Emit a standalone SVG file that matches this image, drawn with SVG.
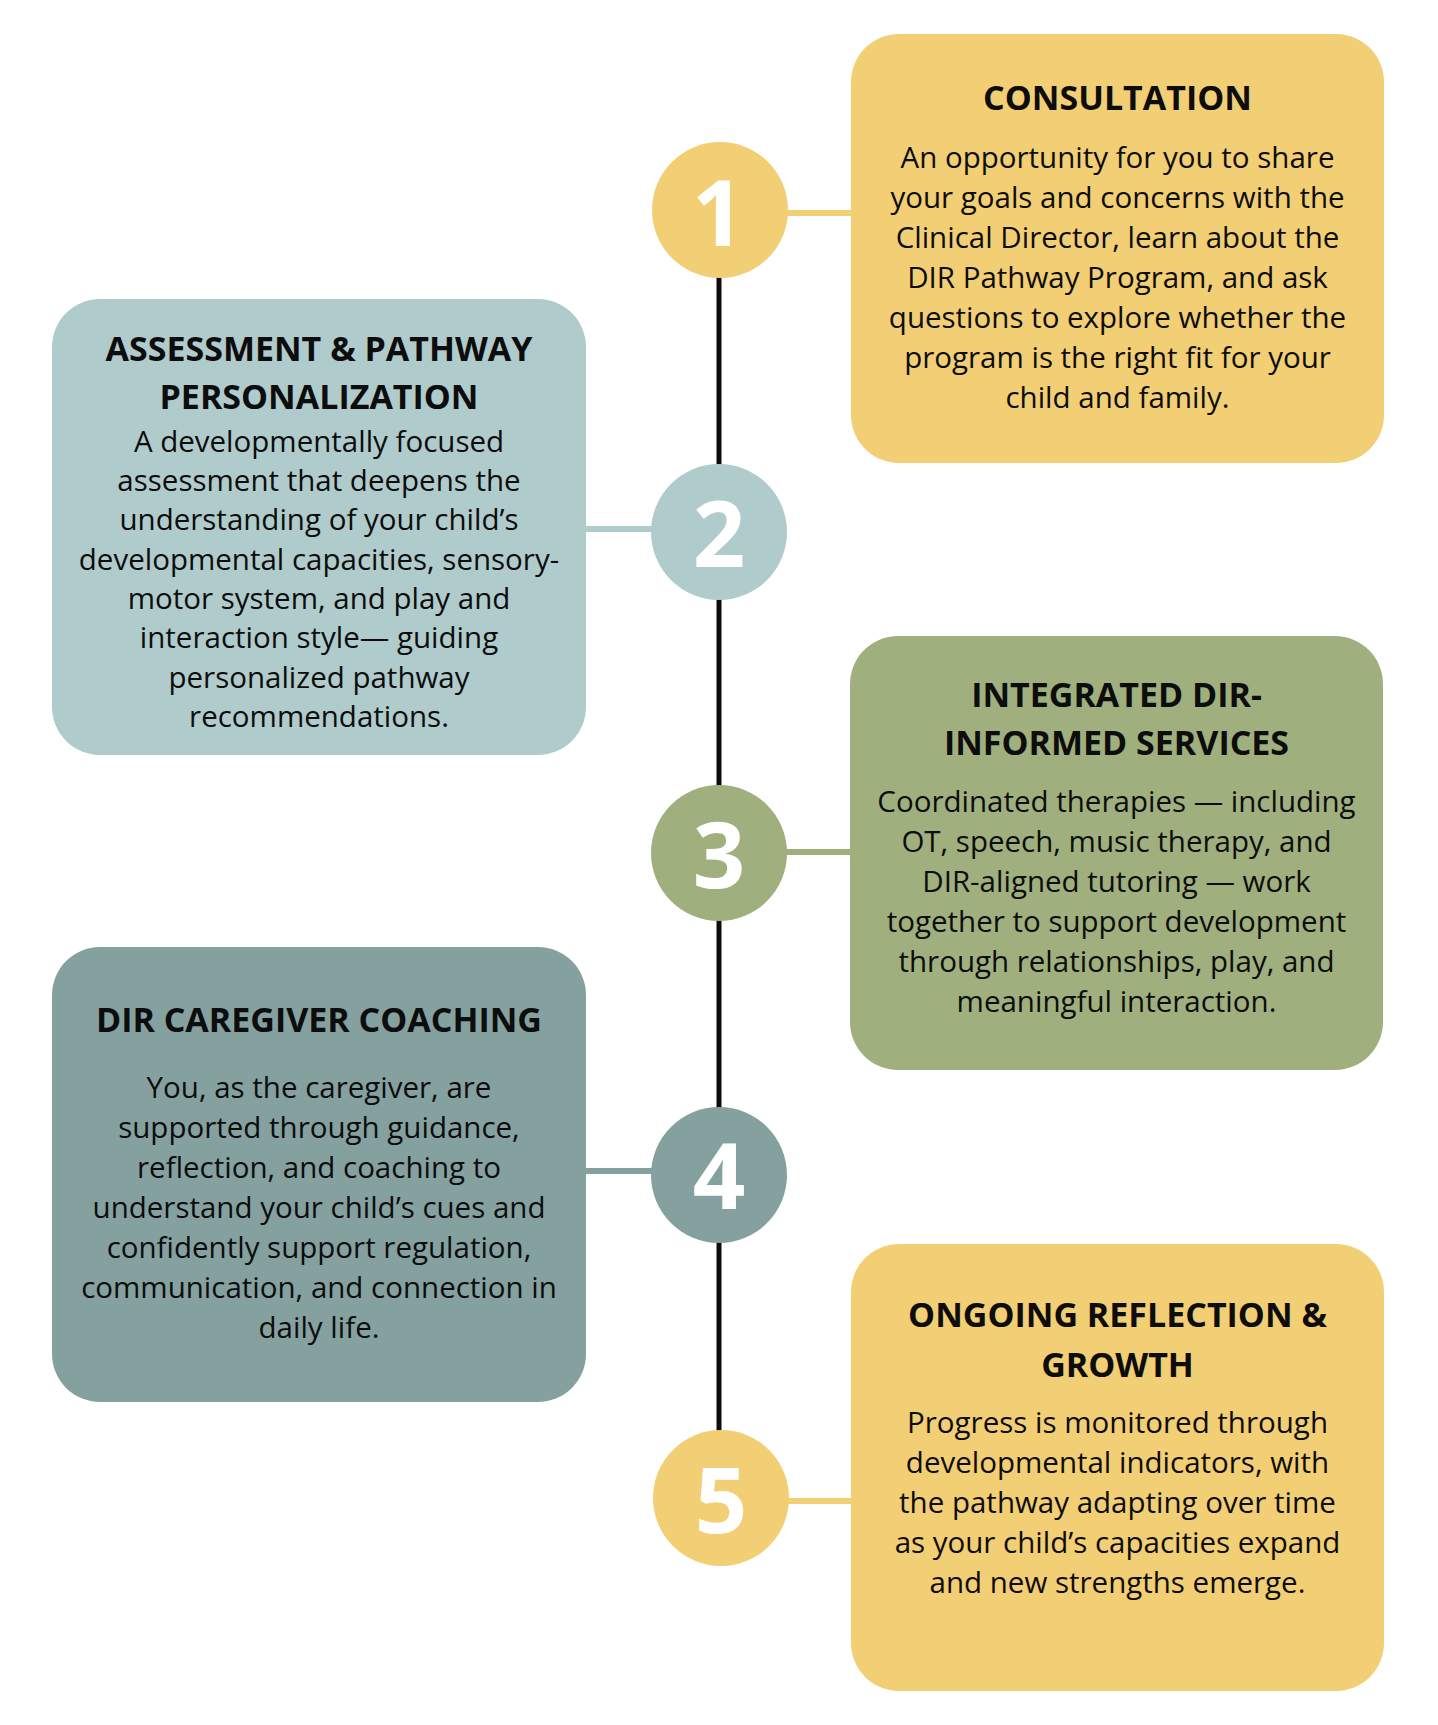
<svg xmlns="http://www.w3.org/2000/svg" width="1438" height="1725" viewBox="0 0 1438 1725">
<style>
.title{font-family:"Open Sans","Liberation Sans",sans-serif;font-weight:700;font-size:34px;fill:#0d0d0d;text-anchor:middle}
.body{font-family:"Open Sans","Liberation Sans",sans-serif;font-weight:400;font-size:29.5px;fill:#0d0d0d;text-anchor:middle}
.num{font-family:"Open Sans","Liberation Sans",sans-serif;font-weight:700;font-size:92px;fill:#ffffff;text-anchor:middle}
.yel{fill:#f2ce74}.blu{fill:#b0cbcb}.grn{fill:#a0af7e}.tea{fill:#84a1a0}
</style>
<rect width="1438" height="1725" fill="#ffffff"/>
<g id="connectors">
<line x1="719" y1="210" x2="719" y2="1498" stroke="#0d0d0d" stroke-width="5"/>
<line x1="780" y1="213" x2="855" y2="213" stroke="#f2ce74" stroke-width="6"/>
<line x1="582" y1="529" x2="660" y2="529" stroke="#b0cbcb" stroke-width="6"/>
<line x1="780" y1="852" x2="855" y2="852" stroke="#a0af7e" stroke-width="6"/>
<line x1="582" y1="1171" x2="660" y2="1171" stroke="#84a1a0" stroke-width="6"/>
<line x1="780" y1="1501" x2="855" y2="1501" stroke="#f2ce74" stroke-width="6"/>
</g>
<g id="step1">
<circle class="yel" cx="720" cy="210" r="68"/>
<text class="num" x="718" y="246">1</text>
</g>
<g id="step2">
<circle class="blu" cx="719" cy="532" r="68"/>
<text class="num" x="719" y="567">2</text>
</g>
<g id="step3">
<circle class="grn" cx="719" cy="853" r="68"/>
<text class="num" x="719" y="888">3</text>
</g>
<g id="step4">
<circle class="tea" cx="719" cy="1175" r="68"/>
<text class="num" x="719" y="1209">4</text>
</g>
<g id="step5">
<circle class="yel" cx="721" cy="1498" r="68"/>
<text class="num" x="721" y="1533">5</text>
</g>
<g id="consultation">
<rect class="yel" x="851" y="34" width="533" height="429" rx="48"/>
<text class="title" x="1117.5" y="110">CONSULTATION</text>
<text class="body" x="1117.5" y="167.7">An opportunity for you to share</text>
<text class="body" x="1117.5" y="207.7">your goals and concerns with the</text>
<text class="body" x="1117.5" y="247.7">Clinical Director, learn about the</text>
<text class="body" x="1117.5" y="287.7">DIR Pathway Program, and ask</text>
<text class="body" x="1117.5" y="327.7">questions to explore whether the</text>
<text class="body" x="1117.5" y="367.7">program is the right fit for your</text>
<text class="body" x="1117.5" y="407.7">child and family.</text>
</g>
<g id="assessment">
<rect class="blu" x="52" y="299" width="534" height="456" rx="48"/>
<text class="title" x="319" y="361">ASSESSMENT &amp; PATHWAY</text>
<text class="title" x="319" y="408.5">PERSONALIZATION</text>
<text class="body" x="319" y="451.7">A developmentally focused</text>
<text class="body" x="319" y="491">assessment that deepens the</text>
<text class="body" x="319" y="530.3">understanding of your child’s</text>
<text class="body" x="319" y="569.6">developmental capacities, sensory-</text>
<text class="body" x="319" y="608.9">motor system, and play and</text>
<text class="body" x="319" y="648.2">interaction style— guiding</text>
<text class="body" x="319" y="687.5">personalized pathway</text>
<text class="body" x="319" y="726.8">recommendations.</text>
</g>
<g id="integrated">
<rect class="grn" x="850" y="636" width="533" height="434" rx="48"/>
<text class="title" x="1116.5" y="707">INTEGRATED DIR-</text>
<text class="title" x="1116.5" y="755">INFORMED SERVICES</text>
<text class="body" x="1116.5" y="811.7">Coordinated therapies — including</text>
<text class="body" x="1116.5" y="851.7">OT, speech, music therapy, and</text>
<text class="body" x="1116.5" y="891.7">DIR-aligned tutoring — work</text>
<text class="body" x="1116.5" y="931.7">together to support development</text>
<text class="body" x="1116.5" y="971.7">through relationships, play, and</text>
<text class="body" x="1116.5" y="1011.7">meaningful interaction.</text>
</g>
<g id="coaching">
<rect class="tea" x="52" y="947" width="534" height="455" rx="48"/>
<text class="title" x="319" y="1031.7">DIR CAREGIVER COACHING</text>
<text class="body" x="319" y="1098.3">You, as the caregiver, are</text>
<text class="body" x="319" y="1138.3">supported through guidance,</text>
<text class="body" x="319" y="1178.3">reflection, and coaching to</text>
<text class="body" x="319" y="1218.3">understand your child’s cues and</text>
<text class="body" x="319" y="1258.3">confidently support regulation,</text>
<text class="body" x="319" y="1298.3">communication, and connection in</text>
<text class="body" x="319" y="1338.3">daily life.</text>
</g>
<g id="growth">
<rect class="yel" x="851" y="1244" width="533" height="447" rx="48"/>
<text class="title" x="1117.5" y="1327.3">ONGOING REFLECTION &amp;</text>
<text class="title" x="1117.5" y="1376.7">GROWTH</text>
<text class="body" x="1117.5" y="1433.3">Progress is monitored through</text>
<text class="body" x="1117.5" y="1473.3">developmental indicators, with</text>
<text class="body" x="1117.5" y="1513.3">the pathway adapting over time</text>
<text class="body" x="1117.5" y="1553.3">as your child’s capacities expand</text>
<text class="body" x="1117.5" y="1593.3">and new strengths emerge.</text>
</g>
</svg>
